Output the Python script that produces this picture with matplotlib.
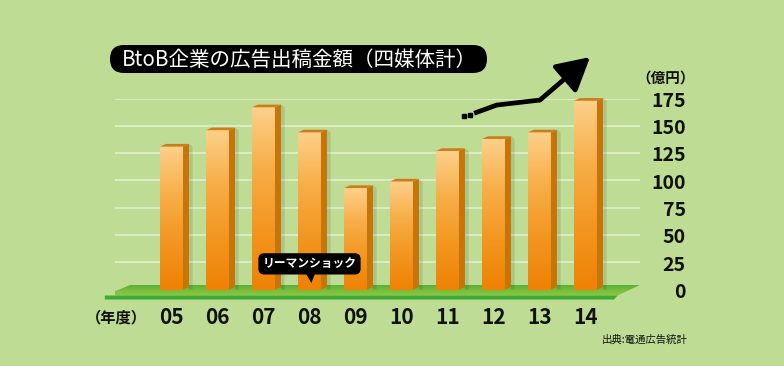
import matplotlib
matplotlib.use("Agg")
import matplotlib.pyplot as plt
import numpy as np
from matplotlib.patches import Polygon, FancyBboxPatch
from matplotlib.colors import LinearSegmentedColormap

plt.rcParams['font.family'] = ['Noto Sans CJK JP', 'DejaVu Sans']

# data: BtoB ad spend (四媒体計), 億円
years = ['05', '06', '07', '08', '09', '10', '11', '12', '13', '14']
spend = [131, 146, 167, 144, 93, 99, 127, 138, 144, 173]
yticks = [0, 25, 50, 75, 100, 125, 150, 175]

# hand-drawn trend arrow above the last bars (data coords)
trend_x = [6.58, 7.07, 8.01, 9.10]
trend_y = [161.5, 169.0, 173.6, 213.0]
dots_x = [6.36, 6.49]
dots_y = [158.8, 159.9]

lehman_idx = 3  # 08

BG = '#BEDC94'
GRID = '#E4F0D2'
FRONT = LinearSegmentedColormap.from_list('front', ['#EE8204', '#F39620', '#F7AE48', '#FDD08A'])
FLOOR = LinearSegmentedColormap.from_list('floor', ['#8DC63F', '#7CBE3C', '#55B038'])
SIDE = '#C87406'
TOP = '#CD7C16'

fig = plt.figure(figsize=(7.84, 3.66), dpi=100, facecolor=BG)
# y from -10 (floor) to 175; 0 sits at ~290px from top
ax = fig.add_axes([0.1467, 0.1792, 0.6696, 0.5516])
ax.set_facecolor('none')
ax.axis('off')

# gridlines
for t in yticks[1:]:
    ax.axhline(t, color=GRID, lw=1.1, zorder=1)

# floor: top surface with a green gradient, bright front edge
floor_top = Polygon([(-0.90, 4.1), (10.18, 4.1), (9.70, -5.5), (-1.45, -5.5)],
                    closed=True, fc='none', ec='none', zorder=2)
ax.add_patch(floor_top)
fimg = ax.imshow(np.linspace(0, 1, 64).reshape(-1, 1), extent=[-1.5, 10.2, -5.5, 4.1],
                 origin='lower', cmap=FLOOR, aspect='auto', zorder=2, interpolation='bilinear')
fimg.set_clip_path(floor_top)
ax.add_patch(Polygon([(-1.45, -5.5), (9.70, -5.5), (9.62, -9.2), (-1.45, -9.2)],
                     closed=True, fc='#3DAB36', ec='none', zorder=2, clip_on=False))

# 3D bars
w = 0.5
dx, dy = 0.13, 2.4
grad = np.linspace(0, 1, 256).reshape(-1, 1)
for i, v in enumerate(spend):
    x0, x1 = i - w / 2, i + w / 2
    # soft shadow
    ax.add_patch(Polygon([(x1 + dx, 0), (x1 + dx + 0.08, 0), (x1 + dx + 0.08, v), (x1 + dx, v + dy)],
                         closed=True, fc='black', alpha=0.10, ec='none', zorder=3, clip_on=False))
    ax.imshow(grad, extent=[x0, x1, 0, v], origin='lower', cmap=FRONT,
              aspect='auto', zorder=4, interpolation='bilinear')
    ax.add_patch(Polygon([(x1, 0), (x1 + dx, dy), (x1 + dx, v + dy), (x1, v)],
                         closed=True, fc=SIDE, ec='none', zorder=4, clip_on=False))
    ax.add_patch(Polygon([(x0, v), (x0 + dx, v + dy), (x1 + dx, v + dy), (x1, v)],
                         closed=True, fc=TOP, ec='none', zorder=4, clip_on=False))
ax.set_xlim(-1.228, 10.185)
ax.set_ylim(-10, 175)

# year labels
for i, yr in enumerate(years):
    ax.text(i, -26.0, yr, ha='center', va='center', fontsize=15,
            fontweight='bold', color='#111111', clip_on=False)
ax.text(-1.2, -26.0, '（年度）', ha='center', va='center', fontsize=11,
        fontweight='bold', color='#111111', clip_on=False)

# value axis labels on the right
for t in yticks:
    ax.text(11.18, t - 2.6, str(t), ha='right', va='center', fontsize=14,
            fontweight='bold', color='#111111', clip_on=False)
ax.text(10.74, 194.5, '（億円）', ha='center', va='center', fontsize=10.5,
        fontweight='bold', color='#111111', clip_on=False)

# Lehman shock callout
ax.add_patch(Polygon([(lehman_idx - 0.09, 15.5), (lehman_idx + 0.13, 15.5), (lehman_idx + 0.04, 6.0)],
                     closed=True, fc='black', ec='none', zorder=6, clip_on=False))
ax.text(lehman_idx, 23.5, 'リーマンショック', ha='center', va='center', fontsize=8.5,
        fontweight='bold', color='white', zorder=7,
        bbox=dict(boxstyle='round,pad=0.35,rounding_size=0.5', fc='black', ec='none'))

# trend arrow
ax.plot(dots_x, dots_y, ls='none', marker='s', ms=3.5, color='black', clip_on=False, zorder=6)
ax.plot(trend_x[:-1], trend_y[:-1], color='black', lw=3.4, solid_capstyle='butt',
        solid_joinstyle='miter', clip_on=False, zorder=6)
ax.annotate('', xy=(trend_x[-1], trend_y[-1]), xytext=(trend_x[-2], trend_y[-2]),
            arrowprops=dict(arrowstyle='-|>,head_length=1.0,head_width=0.55', lw=3.4,
                            color='black', mutation_scale=20, shrinkA=0, shrinkB=0),
            annotation_clip=False, zorder=6)

# overlay in pixel coords for title and source
deco = fig.add_axes([0, 0, 1, 1], zorder=5)
deco.set_xlim(0, 784)
deco.set_ylim(366, 0)
deco.axis('off')
deco.patch.set_alpha(0)
deco.add_patch(FancyBboxPatch((110, 45), 377, 28, boxstyle='round,pad=0,rounding_size=14',
                              fc='black', ec='none'))
deco.text(299, 59.5, 'BtoB企業の広告出稿金額（四媒体計）', ha='center', va='center',
          fontsize=14.8, color='white')
deco.text(688, 340, '出典:電通広告統計', ha='right', va='center', fontsize=7.5, color='#111111')

fig.savefig('out.png', dpi=100, facecolor=BG)
